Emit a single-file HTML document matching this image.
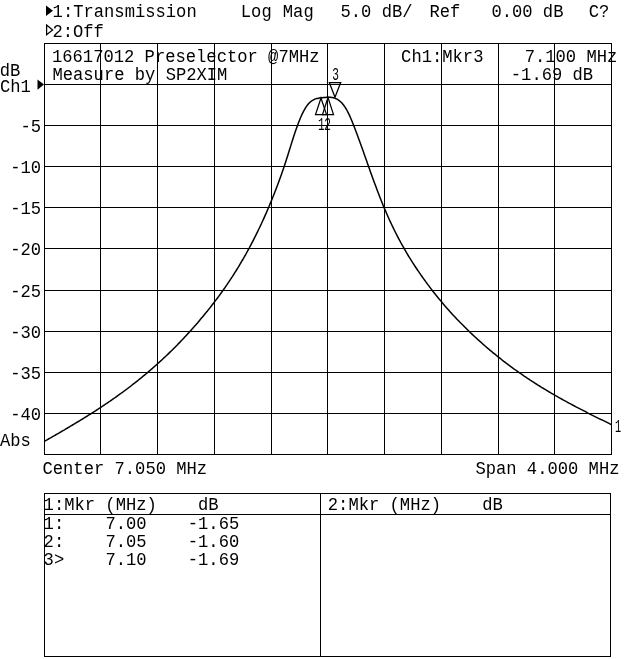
<!DOCTYPE html>
<html><head><meta charset="utf-8"><title>Transmission Log Mag</title>
<style>
html,body{margin:0;padding:0;background:#fff;}
svg{display:block;}
text{font-family:"Liberation Mono",monospace;font-size:17.16px;fill:#000;white-space:pre;stroke:none;}
.m{stroke:none;}
.g rect{fill:#000;shape-rendering:crispEdges;}
</style></head><body>
<svg width="640" height="659" viewBox="0 0 640 659">
<rect width="640" height="659" fill="#fff"/>
<g class="t">
<text transform="translate(52.6,16.9) scale(1,1.06)">1:Transmission</text>
<text transform="translate(240.8,16.9) scale(1,1.06)">Log</text>
<text transform="translate(282.8,16.9) scale(1,1.06)">Mag</text>
<text transform="translate(340.5,16.9) scale(1,1.06)">5.0 dB/</text>
<text transform="translate(429.4,16.9) scale(1,1.06)">Ref</text>
<text transform="translate(491.4,16.9) scale(1,1.06)">0.00 dB</text>
<text transform="translate(588.7,16.9) scale(1,1.06)">C?</text>
<text transform="translate(52.4,36.6) scale(1,1.06)">2:Off</text>
<text transform="translate(52.0,61.8) scale(1,1.06)">16617012 Preselector @7MHz</text>
<text transform="translate(52.45,79.9) scale(1,1.06)">Measure by SP2XIM</text>
<text transform="translate(401.1,61.8) scale(1,1.06)">Ch1:Mkr3</text>
<text transform="translate(524.7,61.8) scale(1,1.06)">7.100 MHz</text>
<text transform="translate(510.8,80.0) scale(1,1.06)">-1.69 dB</text>
<text transform="translate(-0.2,75.9) scale(1,1.06)">dB</text>
<text transform="translate(0.0,92.1) scale(1,1.06)">Ch1</text>
<text transform="translate(41.1,132.1) scale(1,1.06)" text-anchor="end">-5</text>
<text transform="translate(41.1,173.1) scale(1,1.06)" text-anchor="end">-10</text>
<text transform="translate(41.1,214.1) scale(1,1.06)" text-anchor="end">-15</text>
<text transform="translate(41.1,255.1) scale(1,1.06)" text-anchor="end">-20</text>
<text transform="translate(41.1,297.1) scale(1,1.06)" text-anchor="end">-25</text>
<text transform="translate(41.1,338.1) scale(1,1.06)" text-anchor="end">-30</text>
<text transform="translate(41.1,379.1) scale(1,1.06)" text-anchor="end">-35</text>
<text transform="translate(41.1,420.1) scale(1,1.06)" text-anchor="end">-40</text>
<text transform="translate(-0.1,445.8) scale(1,1.06)">Abs</text>
<text transform="translate(42.5,473.8) scale(1,1.06)">Center 7.050 MHz</text>
<text transform="translate(475.4,473.8) scale(1,1.06)">Span 4.000 MHz</text>
<text transform="translate(43.6,509.8) scale(1,1.06)">1:Mkr (MHz)</text>
<text transform="translate(198.07,509.8) scale(1,1.06)">dB</text>
<text transform="translate(327.8,509.8) scale(1,1.06)">2:Mkr (MHz)</text>
<text transform="translate(482.27,509.8) scale(1,1.06)">dB</text>
<text transform="translate(43.6,529.0) scale(1,1.06)">1:</text>
<text transform="translate(105.39,529.0) scale(1,1.06)">7.00</text>
<text transform="translate(187.77,529.0) scale(1,1.06)">-1.65</text>
<text transform="translate(43.6,547.3) scale(1,1.06)">2:</text>
<text transform="translate(105.39,547.3) scale(1,1.06)">7.05</text>
<text transform="translate(187.77,547.3) scale(1,1.06)">-1.60</text>
<text transform="translate(43.6,565.3) scale(1,1.06)">3&gt;</text>
<text transform="translate(105.39,565.3) scale(1,1.06)">7.10</text>
<text transform="translate(187.77,565.3) scale(1,1.06)">-1.69</text>
<text class="m" transform="translate(321.4,129.8) scale(0.65,1.04)" text-anchor="middle">1</text>
<text class="m" transform="translate(327.6,129.6) scale(0.65,1.04)" text-anchor="middle">2</text>
<text class="m" transform="translate(335.5,79.7) scale(0.65,1.04)" text-anchor="middle">3</text>
<text class="m" transform="translate(618,431.6) scale(0.6,1.04)" text-anchor="middle">1</text>
</g>
<g class="g"><rect x="44" y="43" width="1" height="412"/><rect x="100" y="43" width="1" height="412"/><rect x="157" y="43" width="1" height="412"/><rect x="214" y="43" width="1" height="412"/><rect x="271" y="43" width="1" height="412"/><rect x="327" y="43" width="1" height="412"/><rect x="384" y="43" width="1" height="412"/><rect x="441" y="43" width="1" height="412"/><rect x="498" y="43" width="1" height="412"/><rect x="554" y="43" width="1" height="412"/><rect x="611" y="43" width="1" height="412"/><rect x="44" y="43" width="568" height="1"/><rect x="44" y="84" width="568" height="1"/><rect x="44" y="125" width="568" height="1"/><rect x="44" y="166" width="568" height="1"/><rect x="44" y="207" width="568" height="1"/><rect x="44" y="248" width="568" height="1"/><rect x="44" y="290" width="568" height="1"/><rect x="44" y="331" width="568" height="1"/><rect x="44" y="372" width="568" height="1"/><rect x="44" y="413" width="568" height="1"/><rect x="44" y="454" width="568" height="1"/><rect x="44" y="493" width="567" height="1"/><rect x="44" y="514" width="567" height="1"/><rect x="44" y="656" width="567" height="1"/><rect x="44" y="493" width="1" height="164"/><rect x="320" y="493" width="1" height="164"/><rect x="610" y="493" width="1" height="164"/></g>
<polyline fill="none" stroke="#000" stroke-width="1.5" stroke-linejoin="round" points="44.5,441.3 45.5,440.7 46.5,440.2 47.5,439.6 48.5,439.0 49.5,438.4 50.5,437.9 51.5,437.3 52.5,436.7 53.5,436.1 54.5,435.6 55.5,435.0 56.5,434.4 57.5,433.8 58.5,433.3 59.5,432.7 60.5,432.1 61.5,431.5 62.5,430.9 63.5,430.3 64.5,429.8 65.5,429.2 66.5,428.6 67.5,428.0 68.5,427.4 69.5,426.8 70.5,426.2 71.5,425.6 72.5,425.0 73.5,424.4 74.5,423.8 75.5,423.2 76.5,422.6 77.5,422.0 78.5,421.4 79.5,420.8 80.5,420.2 81.5,419.6 82.5,419.0 83.5,418.4 84.5,417.7 85.5,417.1 86.5,416.5 87.5,415.9 88.5,415.2 89.5,414.6 90.5,414.0 91.5,413.4 92.5,412.7 93.5,412.1 94.5,411.4 95.5,410.8 96.5,410.1 97.5,409.5 98.5,408.8 99.5,408.2 100.5,407.5 101.5,406.9 102.5,406.2 103.5,405.5 104.5,404.9 105.5,404.2 106.5,403.5 107.5,402.9 108.5,402.2 109.5,401.5 110.5,400.8 111.5,400.1 112.5,399.4 113.5,398.7 114.5,398.0 115.5,397.3 116.5,396.6 117.5,395.9 118.5,395.2 119.5,394.4 120.5,393.7 121.5,393.0 122.5,392.3 123.5,391.5 124.5,390.8 125.5,390.0 126.5,389.3 127.5,388.5 128.5,387.8 129.5,387.0 130.5,386.3 131.5,385.5 132.5,384.7 133.5,383.9 134.5,383.2 135.5,382.4 136.5,381.6 137.5,380.8 138.5,380.0 139.5,379.2 140.5,378.4 141.5,377.6 142.5,376.7 143.5,375.9 144.5,375.1 145.5,374.3 146.5,373.4 147.5,372.6 148.5,371.7 149.5,370.9 150.5,370.0 151.5,369.1 152.5,368.3 153.5,367.4 154.5,366.5 155.5,365.6 156.5,364.7 157.5,363.8 158.5,362.9 159.5,362.0 160.5,361.1 161.5,360.2 162.5,359.3 163.5,358.3 164.5,357.4 165.5,356.5 166.5,355.5 167.5,354.6 168.5,353.6 169.5,352.6 170.5,351.6 171.5,350.7 172.5,349.7 173.5,348.7 174.5,347.7 175.5,346.7 176.5,345.7 177.5,344.7 178.5,343.6 179.5,342.6 180.5,341.6 181.5,340.5 182.5,339.5 183.5,338.4 184.5,337.3 185.5,336.3 186.5,335.2 187.5,334.1 188.5,333.0 189.5,331.9 190.5,330.8 191.5,329.7 192.5,328.6 193.5,327.4 194.5,326.3 195.5,325.2 196.5,324.0 197.5,322.9 198.5,321.7 199.5,320.5 200.5,319.3 201.5,318.1 202.5,317.0 203.5,315.7 204.5,314.5 205.5,313.3 206.5,312.1 207.5,310.9 208.5,309.6 209.5,308.4 210.5,307.1 211.5,305.8 212.5,304.5 213.5,303.2 214.5,301.9 215.5,300.6 216.5,299.3 217.5,298.0 218.5,296.6 219.5,295.3 220.5,293.9 221.5,292.5 222.5,291.1 223.5,289.7 224.5,288.3 225.5,286.8 226.5,285.4 227.5,283.9 228.5,282.4 229.5,280.9 230.5,279.4 231.5,277.9 232.5,276.4 233.5,274.8 234.5,273.2 235.5,271.6 236.5,270.0 237.5,268.4 238.5,266.8 239.5,265.1 240.5,263.4 241.5,261.7 242.5,260.0 243.5,258.3 244.5,256.5 245.5,254.8 246.5,253.0 247.5,251.2 248.5,249.3 249.5,247.5 250.5,245.6 251.5,243.7 252.5,241.8 253.5,239.9 254.5,237.9 255.5,235.9 256.5,233.9 257.5,231.9 258.5,229.8 259.5,227.7 260.5,225.6 261.5,223.5 262.5,221.3 263.5,219.1 264.5,216.9 265.5,214.6 266.5,212.4 267.5,210.0 268.5,207.7 269.5,205.3 270.5,202.9 271.5,200.5 272.5,198.0 273.5,195.5 274.5,193.0 275.5,190.4 276.5,187.8 277.5,185.2 278.5,182.5 279.5,179.8 280.5,177.0 281.5,174.2 282.5,171.3 283.5,168.4 284.5,165.4 285.5,162.4 286.5,159.3 287.5,156.2 288.5,153.0 289.5,149.8 290.5,146.6 291.5,143.4 292.5,140.2 293.5,137.1 294.5,134.1 295.5,131.1 296.5,128.2 297.5,125.4 298.5,122.7 299.5,120.2 300.5,117.7 301.5,115.5 302.5,113.4 303.5,111.4 304.5,109.6 305.5,107.9 306.5,106.4 307.5,105.0 308.5,103.8 309.5,102.7 310.5,101.8 311.5,101.0 312.5,100.3 313.5,99.8 314.5,99.3 315.5,98.9 316.5,98.6 317.5,98.4 318.5,98.2 319.5,98.0 320.5,97.9 321.5,97.8 322.5,97.7 323.5,97.6 324.5,97.5 325.5,97.4 326.5,97.3 327.5,97.3 328.5,97.3 329.5,97.3 330.5,97.3 331.5,97.5 332.5,97.6 333.5,97.8 334.5,98.1 335.5,98.5 336.5,98.9 337.5,99.4 338.5,100.1 339.5,100.8 340.5,101.7 341.5,102.6 342.5,103.7 343.5,105.0 344.5,106.3 345.5,107.8 346.5,109.5 347.5,111.3 348.5,113.3 349.5,115.4 350.5,117.7 351.5,120.0 352.5,122.5 353.5,125.0 354.5,127.6 355.5,130.2 356.5,132.8 357.5,135.5 358.5,138.3 359.5,141.0 360.5,143.8 361.5,146.5 362.5,149.3 363.5,152.1 364.5,155.0 365.5,157.8 366.5,160.6 367.5,163.4 368.5,166.2 369.5,169.1 370.5,171.9 371.5,174.7 372.5,177.4 373.5,180.2 374.5,182.9 375.5,185.6 376.5,188.3 377.5,191.0 378.5,193.6 379.5,196.2 380.5,198.8 381.5,201.3 382.5,203.7 383.5,206.2 384.5,208.6 385.5,210.9 386.5,213.2 387.5,215.5 388.5,217.7 389.5,220.0 390.5,222.1 391.5,224.3 392.5,226.4 393.5,228.4 394.5,230.5 395.5,232.5 396.5,234.4 397.5,236.4 398.5,238.3 399.5,240.2 400.5,242.0 401.5,243.9 402.5,245.7 403.5,247.4 404.5,249.2 405.5,250.9 406.5,252.6 407.5,254.3 408.5,256.0 409.5,257.6 410.5,259.2 411.5,260.8 412.5,262.4 413.5,263.9 414.5,265.5 415.5,267.0 416.5,268.5 417.5,270.0 418.5,271.4 419.5,272.9 420.5,274.3 421.5,275.8 422.5,277.2 423.5,278.6 424.5,280.0 425.5,281.4 426.5,282.7 427.5,284.1 428.5,285.4 429.5,286.8 430.5,288.1 431.5,289.4 432.5,290.7 433.5,292.0 434.5,293.2 435.5,294.5 436.5,295.7 437.5,297.0 438.5,298.2 439.5,299.4 440.5,300.6 441.5,301.8 442.5,303.0 443.5,304.2 444.5,305.4 445.5,306.5 446.5,307.7 447.5,308.8 448.5,309.9 449.5,311.1 450.5,312.2 451.5,313.3 452.5,314.4 453.5,315.5 454.5,316.5 455.5,317.6 456.5,318.7 457.5,319.7 458.5,320.7 459.5,321.8 460.5,322.8 461.5,323.8 462.5,324.8 463.5,325.8 464.5,326.8 465.5,327.8 466.5,328.8 467.5,329.8 468.5,330.8 469.5,331.7 470.5,332.7 471.5,333.6 472.5,334.6 473.5,335.5 474.5,336.5 475.5,337.4 476.5,338.3 477.5,339.2 478.5,340.1 479.5,341.0 480.5,341.9 481.5,342.8 482.5,343.7 483.5,344.6 484.5,345.5 485.5,346.3 486.5,347.2 487.5,348.1 488.5,348.9 489.5,349.8 490.5,350.6 491.5,351.4 492.5,352.3 493.5,353.1 494.5,353.9 495.5,354.7 496.5,355.5 497.5,356.4 498.5,357.2 499.5,357.9 500.5,358.7 501.5,359.5 502.5,360.3 503.5,361.1 504.5,361.8 505.5,362.6 506.5,363.4 507.5,364.1 508.5,364.9 509.5,365.6 510.5,366.4 511.5,367.1 512.5,367.8 513.5,368.6 514.5,369.3 515.5,370.0 516.5,370.7 517.5,371.4 518.5,372.1 519.5,372.8 520.5,373.5 521.5,374.2 522.5,374.9 523.5,375.6 524.5,376.3 525.5,376.9 526.5,377.6 527.5,378.3 528.5,378.9 529.5,379.6 530.5,380.3 531.5,380.9 532.5,381.6 533.5,382.2 534.5,382.9 535.5,383.5 536.5,384.1 537.5,384.8 538.5,385.4 539.5,386.0 540.5,386.6 541.5,387.3 542.5,387.9 543.5,388.5 544.5,389.1 545.5,389.7 546.5,390.3 547.5,390.9 548.5,391.5 549.5,392.1 550.5,392.7 551.5,393.3 552.5,393.8 553.5,394.4 554.5,395.0 555.5,395.6 556.5,396.1 557.5,396.7 558.5,397.3 559.5,397.8 560.5,398.4 561.5,399.0 562.5,399.5 563.5,400.1 564.5,400.6 565.5,401.2 566.5,401.7 567.5,402.3 568.5,402.8 569.5,403.4 570.5,403.9 571.5,404.4 572.5,405.0 573.5,405.5 574.5,406.0 575.5,406.6 576.5,407.1 577.5,407.6 578.5,408.1 579.5,408.6 580.5,409.2 581.5,409.7 582.5,410.2 583.5,410.7 584.5,411.2 585.5,411.7 586.5,412.2 587.5,412.8 588.5,413.3 589.5,413.8 590.5,414.3 591.5,414.8 592.5,415.3 593.5,415.8 594.5,416.3 595.5,416.8 596.5,417.3 597.5,417.8 598.5,418.3 599.5,418.8 600.5,419.3 601.5,419.7 602.5,420.2 603.5,420.7 604.5,421.2 605.5,421.7 606.5,422.2 607.5,422.7 608.5,423.2 609.5,423.7 610.5,424.1 611.2,424.5"/>
<g fill="none" stroke="#000" stroke-width="1.25">
<path d="M321 98 L315.5 114.5 L326.5 114.5 Z"/>
<path d="M328 97.5 L322.5 114.5 L333.5 114.5 Z"/>
<path d="M335 97.2 L329.3 82.6 L340.7 82.6 Z"/>
</g>
<g fill="#000">
<path d="M46 5.4 L53 10.7 L46 16 Z"/>
<path d="M37.5 79.5 L44 84.6 L37.5 89.8 Z"/>
<path d="M46.6 25 L52.6 29.9 L46.6 34.8 Z" fill="none" stroke="#000" stroke-width="1.25"/>
</g>
</svg>
</body></html>
